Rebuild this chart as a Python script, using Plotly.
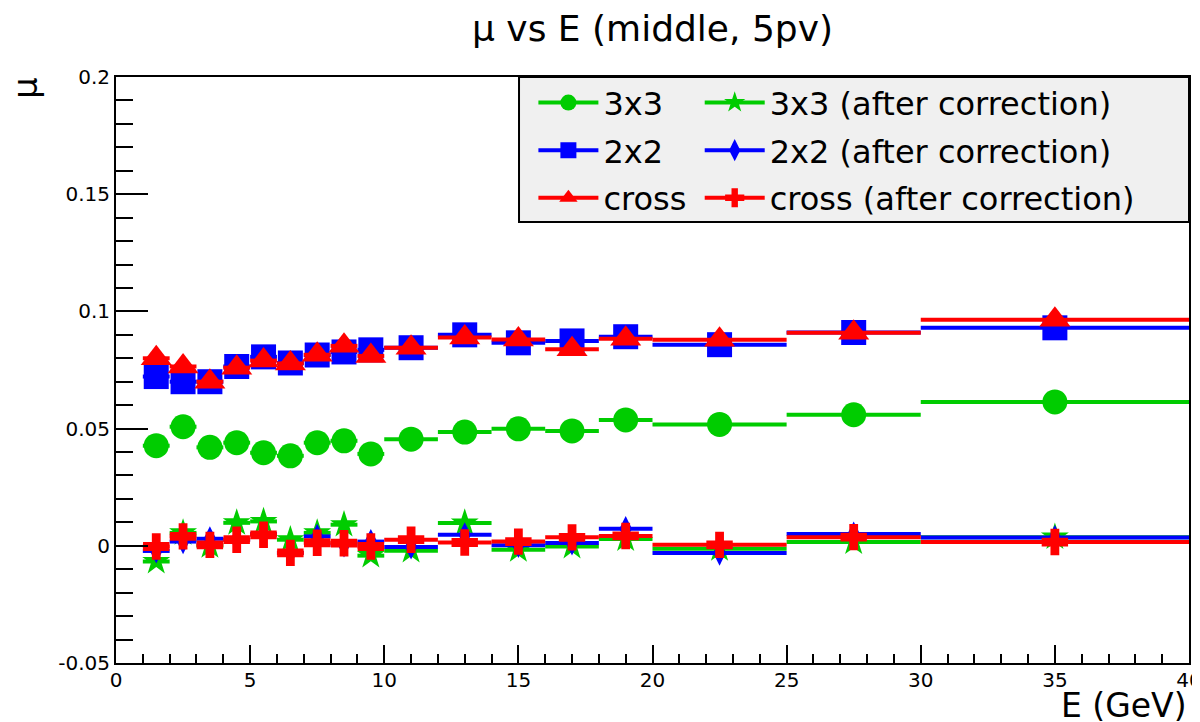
import plotly.graph_objects as go

# ---- data ----
energy = [1.5, 2.5, 3.5, 4.5, 5.5, 6.5, 7.5, 8.5, 9.5, 11, 13, 15, 17, 19, 22.5, 27.5, 35]
bin_half_width = [0.5, 0.5, 0.5, 0.5, 0.5, 0.5, 0.5, 0.5, 0.5, 1, 1, 1, 1, 1, 2.5, 2.5, 5]

mu_3x3 = [0.0427, 0.0508, 0.0420, 0.0440, 0.0397, 0.0384, 0.0440, 0.0448, 0.0392,
          0.0455, 0.0485, 0.0499, 0.0490, 0.0537, 0.0518, 0.0559, 0.0614]
mu_2x2 = [0.0722, 0.0700, 0.0700, 0.0765, 0.0806, 0.0780, 0.0814, 0.0827, 0.0836,
          0.0845, 0.0900, 0.0866, 0.0874, 0.0892, 0.0858, 0.0910, 0.0930]
mu_cross = [0.0800, 0.0765, 0.0700, 0.0760, 0.0790, 0.0778, 0.0815, 0.0853, 0.0810,
            0.0845, 0.0889, 0.0880, 0.0838, 0.0883, 0.0879, 0.0909, 0.0964]

mu_3x3_corr = [-0.0067, 0.0055, 0.0000, 0.0098, 0.0104, 0.0026, 0.0055, 0.0090, -0.0042,
               -0.0021, 0.0097, -0.0017, -0.0003, 0.0029, -0.0013, 0.0016, 0.0037]
mu_2x2_corr = [-0.0022, 0.0018, 0.0030, 0.0026, 0.0050, -0.0030, 0.0040, 0.0004, 0.0018,
               -0.0005, 0.0047, 0.0002, 0.0012, 0.0073, -0.0031, 0.0050, 0.0035]
mu_cross_corr = [-0.0003, 0.0040, 0.0004, 0.0026, 0.0047, -0.0030, 0.0013, 0.0011, -0.0003,
                 0.0026, 0.0014, 0.0018, 0.0036, 0.0042, 0.0004, 0.0037, 0.0016]

series_names = ["3x3", "2x2", "cross",
                "3x3 (after correction)", "2x2 (after correction)", "cross (after correction)"]

x_tick_vals = [0, 5, 10, 15, 20, 25, 30, 35, 40]
x_tick_text = ["0", "5", "10", "15", "20", "25", "30", "35", "40"]
y_tick_vals = [-0.05, 0, 0.05, 0.1, 0.15, 0.2]
y_tick_text = ["-0.05", "0", "0.05", "0.1", "0.15", "0.2"]

GREEN = "#00cc00"
BLUE = "#0000ff"
RED = "#ff0000"
FONT = "DejaVu Sans, Liberation Sans, Arial, sans-serif"

styles = [
    (mu_3x3, GREEN, "circle", 25),
    (mu_2x2, BLUE, "square", 25),
    (mu_cross, RED, "triangle-up", 27),
    (mu_3x3_corr, GREEN, "star", 21),
    (mu_2x2_corr, BLUE, "diamond-tall", 18),
    (mu_cross_corr, RED, "cross", 22),
]

fig = go.Figure()

for i, (vals, col, sym, size) in enumerate(styles):
    fig.add_trace(go.Scatter(
        x=energy, y=vals, mode="markers", name=series_names[i],
        marker=dict(symbol=sym, size=size, color=col, line=dict(width=0)),
        error_x=dict(type="data", array=bin_half_width, symmetric=True,
                     thickness=4, width=0, color=col),
        showlegend=False, legendgroup=series_names[i],
    ))

# legend entries (line + marker, like the ROOT legend)
for i, (vals, col, sym, size) in enumerate(styles):
    fig.add_trace(go.Scatter(
        x=[None], y=[None], mode="lines+markers", name=series_names[i],
        marker=dict(symbol=sym, size=size, color=col, line=dict(width=0)),
        line=dict(color=col, width=4),
        legend="legend" if i < 3 else "legend2",
        legendgroup=series_names[i], showlegend=True,
    ))

axis_common = dict(
    showline=True, linecolor="black", linewidth=2, mirror=True,
    ticks="inside", tickcolor="black", tickwidth=2,
    showgrid=False, zeroline=False, automargin=False,
    ticklabeloverflow="allow",
    tickfont=dict(family=FONT, size=20, color="black"),
)

fig.update_xaxes(
    range=[0, 40], tickmode="array", tickvals=x_tick_vals, ticktext=x_tick_text,
    ticklen=18, ticklabelstandoff=-2,
    minor=dict(tickmode="linear", tick0=0, dtick=1, ticks="inside", ticklen=9,
               tickcolor="black", tickwidth=2),
    **axis_common,
)
fig.update_yaxes(
    range=[-0.05, 0.2], tickmode="array", tickvals=y_tick_vals, ticktext=y_tick_text,
    ticklen=32,
    minor=dict(tickmode="linear", tick0=0, dtick=0.01, ticks="inside", ticklen=17,
               tickcolor="black", tickwidth=2),
    **axis_common,
)

legend_common = dict(
    bgcolor="rgba(0,0,0,0)", borderwidth=0,
    font=dict(family=FONT, size=32, color="black"),
    orientation="v", yanchor="top", xanchor="left",
    tracegroupgap=3, traceorder="grouped", itemwidth=60,
)

fig.update_layout(
    width=1192, height=714,
    margin=dict(l=108, r=11, t=69, b=59, autoexpand=False),
    paper_bgcolor="white", plot_bgcolor="white",
    title=dict(text="μ vs E (middle, 5pv)", x=0.5, xref="paper", xanchor="center",
               y=0.972, yanchor="middle",
               font=dict(family=FONT, size=36, color="black")),
    legend=dict(x=0.389, y=1.003, **legend_common),
    legend2=dict(x=0.544, y=1.003, **legend_common),
    shapes=[dict(type="rect", xref="paper", yref="paper",
                 x0=0.3756, x1=1.0, y0=0.7526, y1=1.0,
                 fillcolor="#f0f0f0", line=dict(color="black", width=2),
                 layer="above")],
    annotations=[
        dict(text="E (GeV)", xref="paper", yref="paper", x=1.0, y=-0.109,
             xanchor="right", yanchor="bottom", showarrow=False,
             font=dict(family=FONT, size=33, color="black")),
        dict(text="μ", xref="paper", yref="paper", x=-0.085, y=1.003,
             xanchor="center", yanchor="top", textangle=-90, showarrow=False,
             font=dict(family=FONT, size=34, color="black")),
    ],
)

fig.write_html("out.html")
